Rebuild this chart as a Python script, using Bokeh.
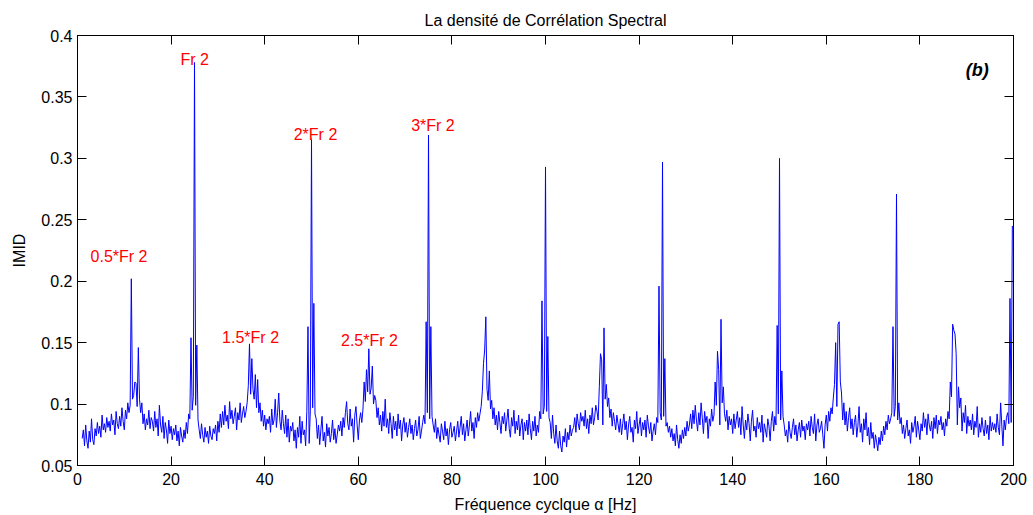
import numpy as np
from bokeh.plotting import figure
from bokeh.models import LinearAxis, FixedTicker, Range1d
from bokeh.core.properties import value
from bokeh.embed import file_html
from bokeh.resources import INLINE

# Spectral correlation density (IMID) sampled every 0.25 Hz of cyclic frequency,
# split into 50 Hz bands. Each row below covers 5 Hz.
imid_001_050 = [
    0.072, 0.079, 0.066, 0.083, 0.070, 0.064, 0.078, 0.069, 0.088, 0.071, 0.067, 0.080, 0.074, 0.085, 0.076, 0.082, 0.073, 0.091, 0.079, 0.084,
    0.077, 0.089, 0.081, 0.086, 0.078, 0.092, 0.083, 0.087, 0.075, 0.094, 0.084, 0.080, 0.090, 0.082, 0.097, 0.086, 0.079, 0.095, 0.088, 0.101,
    0.093, 0.099, 0.202, 0.104, 0.107, 0.118, 0.117, 0.098, 0.146, 0.104, 0.093, 0.101, 0.084, 0.092, 0.079, 0.088, 0.083, 0.095, 0.080, 0.089,
    0.086, 0.078, 0.094, 0.081, 0.088, 0.074, 0.099, 0.083, 0.077, 0.090, 0.072, 0.085, 0.079, 0.068, 0.087, 0.076, 0.082, 0.071, 0.080, 0.075,
    0.083, 0.070, 0.078, 0.066, 0.081, 0.074, 0.069, 0.079, 0.072, 0.085, 0.076, 0.092, 0.088, 0.154, 0.095, 0.106, 0.378, 0.099, 0.148, 0.087,
    0.079, 0.072, 0.084, 0.075, 0.069, 0.081, 0.073, 0.078, 0.068, 0.082, 0.074, 0.071, 0.080, 0.076, 0.083, 0.070, 0.086, 0.077, 0.092, 0.081,
    0.094, 0.083, 0.099, 0.086, 0.091, 0.080, 0.102, 0.088, 0.095, 0.084, 0.090, 0.097, 0.079, 0.093, 0.087, 0.101, 0.085, 0.092, 0.098, 0.089,
    0.094, 0.101, 0.115, 0.149, 0.108, 0.137, 0.112, 0.104, 0.124, 0.097, 0.120, 0.093, 0.101, 0.086, 0.095, 0.082, 0.091, 0.079, 0.088, 0.084,
    0.090, 0.077, 0.096, 0.083, 0.087, 0.104, 0.081, 0.093, 0.109, 0.086, 0.079, 0.095, 0.084, 0.076, 0.091, 0.073, 0.088, 0.069, 0.082, 0.078,
    0.085, 0.070, 0.079, 0.064, 0.081, 0.073, 0.090, 0.068, 0.086, 0.075, 0.079, 0.066, 0.094, 0.163, 0.068, 0.095, 0.316, 0.097, 0.182, 0.092,
]
imid_051_100 = [
    0.088, 0.072, 0.083, 0.067, 0.079, 0.090, 0.070, 0.077, 0.065, 0.084, 0.074, 0.081, 0.069, 0.076, 0.087, 0.071, 0.080, 0.068, 0.075, 0.083,
    0.078, 0.086, 0.074, 0.089, 0.081, 0.093, 0.102, 0.084, 0.079, 0.096, 0.082, 0.088, 0.069, 0.091, 0.098, 0.083, 0.071, 0.087, 0.093, 0.085,
    0.096, 0.118, 0.102, 0.128, 0.110, 0.145, 0.108, 0.113, 0.131, 0.100, 0.107, 0.103, 0.089, 0.097, 0.083, 0.091, 0.078, 0.094, 0.082, 0.104,
    0.081, 0.088, 0.076, 0.093, 0.084, 0.072, 0.090, 0.079, 0.086, 0.074, 0.092, 0.080, 0.087, 0.070, 0.083, 0.089, 0.077, 0.085, 0.073, 0.081,
    0.088, 0.076, 0.083, 0.071, 0.080, 0.087, 0.074, 0.079, 0.090, 0.072, 0.078, 0.085, 0.091, 0.084, 0.167, 0.093, 0.319, 0.088, 0.163, 0.090,
    0.083, 0.077, 0.088, 0.072, 0.081, 0.075, 0.069, 0.084, 0.078, 0.071, 0.086, 0.074, 0.080, 0.067, 0.079, 0.085, 0.073, 0.077, 0.082, 0.070,
    0.078, 0.086, 0.073, 0.081, 0.090, 0.075, 0.084, 0.070, 0.079, 0.087, 0.074, 0.083, 0.094, 0.078, 0.085, 0.072, 0.089, 0.081, 0.093, 0.086,
    0.092, 0.098, 0.110, 0.133, 0.144, 0.171, 0.112, 0.103, 0.127, 0.096, 0.103, 0.088, 0.097, 0.083, 0.091, 0.079, 0.094, 0.085, 0.076, 0.090,
    0.084, 0.093, 0.078, 0.087, 0.096, 0.080, 0.073, 0.089, 0.082, 0.095, 0.076, 0.086, 0.079, 0.091, 0.074, 0.083, 0.088, 0.071, 0.085, 0.078,
    0.087, 0.075, 0.092, 0.080, 0.071, 0.086, 0.078, 0.090, 0.074, 0.083, 0.077, 0.094, 0.088, 0.184, 0.092, 0.098, 0.293, 0.094, 0.155, 0.089,
]
imid_101_150 = [
    0.085, 0.072, 0.091, 0.076, 0.068, 0.083, 0.070, 0.064, 0.078, 0.066, 0.061, 0.074, 0.069, 0.080, 0.065, 0.077, 0.071, 0.083, 0.074, 0.079,
    0.081, 0.089, 0.077, 0.092, 0.084, 0.079, 0.093, 0.086, 0.090, 0.082, 0.095, 0.080, 0.088, 0.076, 0.091, 0.084, 0.097, 0.083, 0.089, 0.099,
    0.094, 0.087, 0.114, 0.141, 0.136, 0.083, 0.162, 0.104, 0.116, 0.098, 0.105, 0.089, 0.096, 0.082, 0.093, 0.086, 0.079, 0.091, 0.084, 0.077,
    0.088, 0.075, 0.084, 0.092, 0.079, 0.086, 0.071, 0.083, 0.090, 0.077, 0.081, 0.069, 0.087, 0.080, 0.094, 0.076, 0.083, 0.089, 0.074, 0.085,
    0.079, 0.087, 0.073, 0.091, 0.082, 0.076, 0.085, 0.070, 0.078, 0.084, 0.075, 0.089, 0.085, 0.196, 0.093, 0.087, 0.297, 0.090, 0.137, 0.082,
    0.085, 0.077, 0.082, 0.073, 0.080, 0.070, 0.076, 0.066, 0.083, 0.071, 0.064, 0.075, 0.068, 0.079, 0.072, 0.081, 0.074, 0.086, 0.078, 0.083,
    0.092, 0.080, 0.095, 0.084, 0.099, 0.087, 0.078, 0.093, 0.083, 0.101, 0.089, 0.076, 0.094, 0.085, 0.090, 0.072, 0.088, 0.082, 0.096, 0.086,
    0.091, 0.118, 0.099, 0.143, 0.128, 0.083, 0.169, 0.101, 0.114, 0.092, 0.086, 0.095, 0.079, 0.090, 0.083, 0.088, 0.076, 0.092, 0.080, 0.087,
    0.094, 0.081, 0.089, 0.075, 0.098, 0.083, 0.072, 0.087, 0.079, 0.092, 0.084, 0.070, 0.086, 0.095, 0.078, 0.082, 0.073, 0.089, 0.080, 0.085,
    0.077, 0.091, 0.069, 0.084, 0.079, 0.073, 0.088, 0.082, 0.070, 0.086, 0.094, 0.078, 0.090, 0.083, 0.164, 0.092, 0.300, 0.087, 0.127, 0.090,
]
imid_151_200 = [
    0.083, 0.074, 0.079, 0.069, 0.086, 0.077, 0.072, 0.081, 0.088, 0.075, 0.083, 0.070, 0.079, 0.085, 0.073, 0.087, 0.078, 0.082, 0.071, 0.084,
    0.079, 0.086, 0.074, 0.090, 0.081, 0.076, 0.092, 0.070, 0.083, 0.088, 0.077, 0.080, 0.086, 0.075, 0.064, 0.083, 0.091, 0.078, 0.094, 0.086,
    0.097, 0.092, 0.105, 0.116, 0.150, 0.098, 0.165, 0.167, 0.118, 0.109, 0.087, 0.101, 0.083, 0.094, 0.078, 0.089, 0.097, 0.080, 0.088, 0.075,
    0.085, 0.091, 0.073, 0.082, 0.098, 0.077, 0.084, 0.069, 0.088, 0.079, 0.093, 0.074, 0.081, 0.067, 0.085, 0.072, 0.077, 0.064, 0.075, 0.069,
    0.062, 0.073, 0.067, 0.078, 0.070, 0.082, 0.075, 0.086, 0.079, 0.091, 0.084, 0.088, 0.093, 0.163, 0.090, 0.098, 0.271, 0.087, 0.101, 0.084,
    0.089, 0.076, 0.083, 0.072, 0.080, 0.087, 0.074, 0.079, 0.068, 0.085, 0.077, 0.082, 0.090, 0.073, 0.086, 0.079, 0.071, 0.084, 0.078, 0.093,
    0.081, 0.088, 0.075, 0.092, 0.083, 0.078, 0.086, 0.072, 0.089, 0.080, 0.091, 0.076, 0.087, 0.083, 0.090, 0.079, 0.085, 0.074, 0.088, 0.082,
    0.094, 0.088, 0.118, 0.106, 0.165, 0.160, 0.157, 0.141, 0.083, 0.114, 0.097, 0.105, 0.078, 0.093, 0.085, 0.099, 0.076, 0.090, 0.082, 0.087,
    0.079, 0.092, 0.075, 0.086, 0.081, 0.098, 0.073, 0.084, 0.077, 0.089, 0.080, 0.074, 0.087, 0.076, 0.083, 0.071, 0.090, 0.078, 0.085, 0.079,
    0.084, 0.077, 0.092, 0.081, 0.075, 0.101, 0.083, 0.066, 0.087, 0.079, 0.089, 0.093, 0.084, 0.186, 0.085, 0.245,
]

alpha_start = 1.0   # Hz
alpha_step = 0.25   # Hz

x_ticks = [0, 20, 40, 60, 80, 100, 120, 140, 160, 180, 200]
y_ticks = [0.05, 0.1, 0.15, 0.2, 0.25, 0.3, 0.35, 0.4]
y_tick_labels = ["0.05", "0.1", "0.15", "0.2", "0.25", "0.3", "0.35", "0.4"]

# Harmonic annotations (text, anchor x in Hz, baseline y)
ann_text = ["0.5*Fr 2", "Fr 2", "1.5*Fr 2", "2*Fr 2", "2.5*Fr 2", "3*Fr 2"]
ann_x = [2.8, 22.0, 30.9, 46.2, 56.3, 71.3]
ann_y = [0.2203, 0.3805, 0.1544, 0.3197, 0.1517, 0.3267]

imid = np.concatenate([imid_001_050, imid_051_100, imid_101_150, imid_151_200])
alpha = alpha_start + alpha_step * np.arange(len(imid))

FONT = "Liberation Sans"

p = figure(
    width=1033, height=515,
    x_range=Range1d(0, 200), y_range=Range1d(0.05, 0.4),
    output_backend="svg", toolbar_location=None,
    min_border_left=77, min_border_right=20, min_border_top=35, min_border_bottom=50,
    title="La densité de Corrélation Spectral",
)
p.background_fill_color = "white"
p.border_fill_color = "white"
p.grid.visible = False
p.outline_line_color = "black"
p.outline_line_width = 1

p.title.align = "center"
p.title.text_font = FONT
p.title.text_font_size = "16px"
p.title.text_font_style = "normal"
p.title.text_color = "black"
p.title.vertical_align = "top"
p.title.standoff = 10

bottom_axis = p.below[0]
left_axis = p.left[0]


def style_axis(ax, ticks, labels=True):
    ax.ticker = FixedTicker(ticks=ticks)
    ax.major_tick_in = 9
    ax.major_tick_out = 0
    ax.minor_tick_line_color = None
    ax.axis_line_color = "black"
    ax.major_tick_line_color = "black"
    ax.major_label_text_font = FONT
    ax.major_label_text_font_size = "16px"
    ax.major_label_text_color = "black" if labels else None


style_axis(bottom_axis, x_ticks)
style_axis(left_axis, y_ticks)
left_axis.major_label_overrides = dict(zip(y_ticks, y_tick_labels))
bottom_axis.major_label_standoff = 7
left_axis.major_label_standoff = 5

# box-style ticks along the top and right edges
top_axis = LinearAxis()
right_axis = LinearAxis()
style_axis(top_axis, x_ticks, labels=False)
style_axis(right_axis, y_ticks, labels=False)
p.add_layout(top_axis, "above")
p.add_layout(right_axis, "right")

bottom_axis.axis_label = "Fréquence cyclque α [Hz]"
left_axis.axis_label = "IMID"
for ax in (bottom_axis, left_axis):
    ax.axis_label_text_font = FONT
    ax.axis_label_text_font_size = "16px"
    ax.axis_label_text_font_style = "normal"
    ax.axis_label_text_color = "black"
bottom_axis.axis_label_standoff = 8
left_axis.axis_label_standoff = 10

p.line(alpha, imid, line_color="#0000FF", line_width=1)

p.text(x=ann_x, y=ann_y, text=ann_text, text_color="#FF0000",
       text_font=value(FONT), text_font_size="16px",
       text_align="left", text_baseline="alphabetic")

p.text(x=[189.8], y=[0.3723], text=["(b)"], text_color="black",
       text_font=value(FONT), text_font_size="18px", text_font_style="bold italic",
       text_align="left", text_baseline="alphabetic")

open("out.html", "w").write(file_html(p, INLINE))
